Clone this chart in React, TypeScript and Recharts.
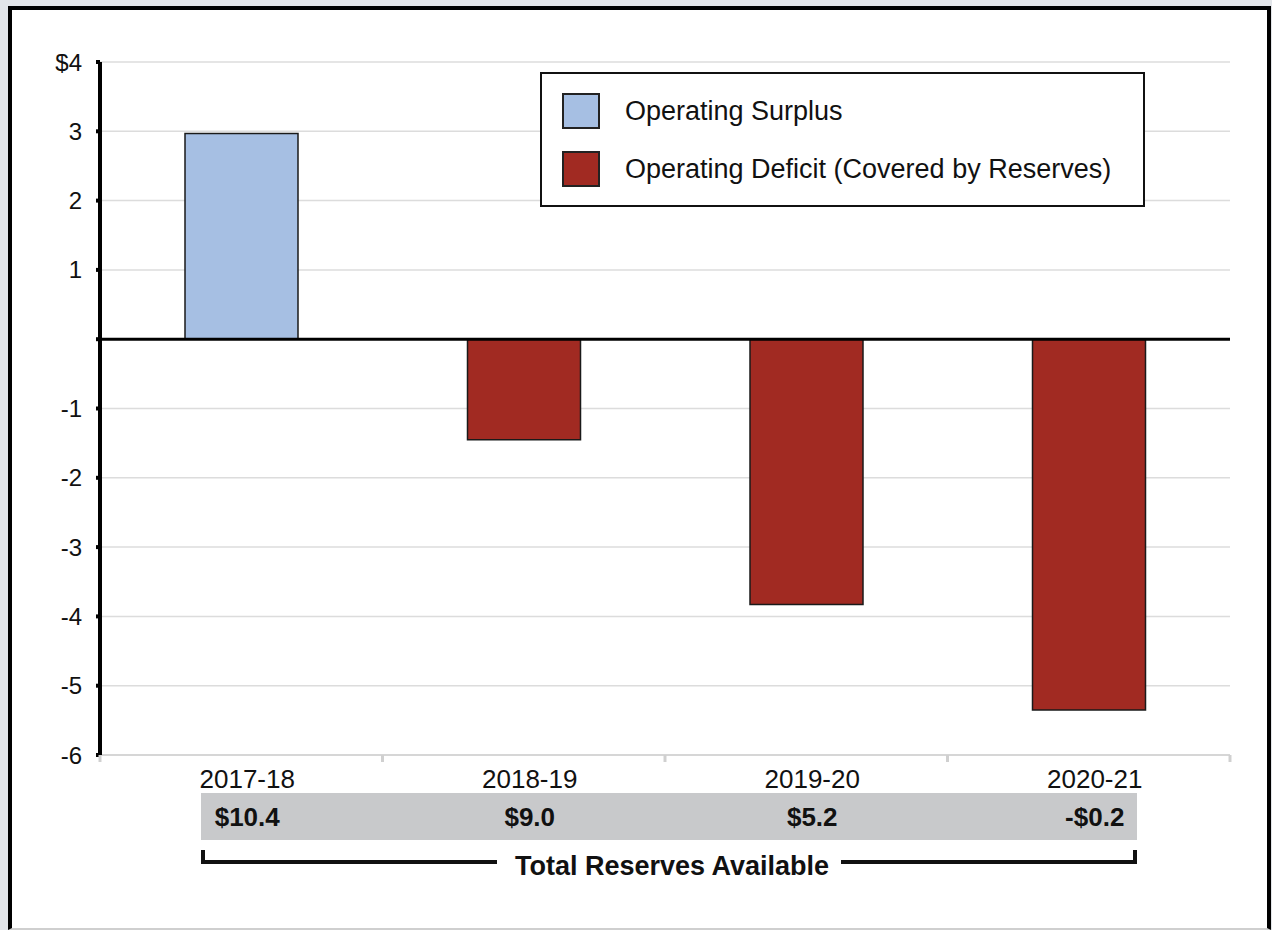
import React from 'react';
import { BarChart, Bar, XAxis, YAxis, CartesianGrid, ReferenceLine } from 'recharts';

const categories = ['2017-18', '2018-19', '2019-20', '2020-21'];
const surplus: (number | null)[] = [2.97, null, null, null];
const deficit: (number | null)[] = [null, -1.45, -3.83, -5.35];
const reserves = ['$10.4', '$9.0', '$5.2', '-$0.2'];
const yTicks = [-6, -5, -4, -3, -2, -1, 0, 1, 2, 3, 4];
const seriesNames = ['Operating Surplus', 'Operating Deficit (Covered by Reserves)'];
const seriesColors = ['#a6bfe3', '#a12a22'];
const bracketTitle = 'Total Reserves Available';

const data = categories.map((c, i) => ({
  name: c,
  surplus: surplus[i],
  deficit: deficit[i],
  reserve: reserves[i],
}));

const W = 1272;
const H = 930;
const M = { top: 62, right: 42, left: 20, bottom: 0 };
const Y_W = 80;
const X_H = 175;
const PLOT_W = W - M.left - M.right - Y_W;
const STEP = PLOT_W / categories.length;
const FONT = "'Liberation Sans', Arial, Helvetica, sans-serif";

const XTick = (props: any) => {
  const { x, y, payload, index } = props;
  const i = index;
  const last = categories.length - 1;
  const bandL = Math.round(i === 0 ? x - 40 : x - STEP / 2);
  const bandR = Math.round(i === last ? x + 48 : x + STEP / 2);
  return (
    <g>
      <line x1={x - STEP / 2} x2={x - STEP / 2} y1={y} y2={y + 7} stroke="#d0d0d0" strokeWidth={3} />
      {i === last && (
        <line x1={x + STEP / 2} x2={x + STEP / 2} y1={y} y2={y + 7} stroke="#d0d0d0" strokeWidth={3} />
      )}
      <text x={x + 6} y={y + 33} textAnchor="middle" fontSize={26} fill="#111" fontFamily={FONT}>
        {payload.value}
      </text>
      <rect x={bandL} y={y + 38} width={bandR - bandL + (i === last ? 0 : 1)} height={47} fill="#c8c9cb" />
      <text x={x + 6} y={y + 71} textAnchor="middle" fontSize={26} fontWeight="bold" fill="#111" fontFamily={FONT}>
        {data[i].reserve}
      </text>
      <line x1={bandL} x2={bandR + (i === last ? 0 : 1)} y1={y + 107} y2={y + 107} stroke="#111" strokeWidth={4} />
      {i === 0 && <line x1={bandL + 2} x2={bandL + 2} y1={y + 95} y2={y + 109} stroke="#111" strokeWidth={4} />}
      {i === last && <line x1={bandR - 2} x2={bandR - 2} y1={y + 95} y2={y + 109} stroke="#111" strokeWidth={4} />}
      {i === last && (
        <g>
          <rect x={x - STEP * 1.5 - 168} y={y + 90} width={344} height={30} fill="#fff" />
          <text x={x - STEP * 1.5 + 7} y={y + 120} textAnchor="middle" fontSize={27} fontWeight="bold" fill="#111" fontFamily={FONT}>
            {bracketTitle}
          </text>
        </g>
      )}
    </g>
  );
};

const LegendBox = () => (
  <div
    style={{
      position: 'absolute',
      left: 540,
      top: 72,
      width: 605,
      height: 135,
      boxSizing: 'border-box',
      border: '2px solid #111',
      background: '#fff',
      fontFamily: FONT,
    }}
  >
    {seriesNames.map((n, i) => (
      <div key={n} style={{ position: 'absolute', left: 20, top: 19 + i * 58, display: 'flex', alignItems: 'center' }}>
        <div style={{ width: 38, height: 36, boxSizing: 'border-box', background: seriesColors[i], border: '2px solid #222' }} />
        <span style={{ marginLeft: 25, fontSize: 27, color: '#111' }}>{n}</span>
      </div>
    ))}
  </div>
);

export default function App() {
  return (
    <div style={{ position: 'absolute', left: 0, top: 0, width: W, height: H, background: '#e2e5e9', overflow: 'hidden' }}>
      <div
        style={{
          position: 'absolute',
          left: 8,
          top: 6,
          width: 1263,
          height: 924,
          boxSizing: 'border-box',
          borderLeft: '4px solid #000',
          borderTop: '4px solid #000',
          borderRight: '4px solid #000',
          borderBottom: '2px solid #cfcfcf',
          background: '#fff',
        }}
      />
      <div style={{ position: 'absolute', left: 0, top: 0 }}>
        <BarChart width={W} height={H} data={data} margin={M} barSize={113} barGap={0}>
          <CartesianGrid vertical={false} stroke="#dcdcdc" strokeWidth={1.5} />
          <XAxis
            dataKey="name"
            height={X_H}
            axisLine={{ stroke: '#d6d6d6', strokeWidth: 2 }}
            tickLine={false}
            tickSize={0}
            tickMargin={0}
            interval={0}
            tick={<XTick />}
          />
          <YAxis
            width={Y_W}
            domain={[-6, 4]}
            ticks={yTicks}
            interval={0}
            axisLine={{ stroke: '#000', strokeWidth: 4 }}
            tickLine={{ stroke: '#000', strokeWidth: 4 }}
            tickSize={4}
            tickMargin={14}
            tickFormatter={(v: number) => (v === 4 ? '$4' : v === 0 ? '' : String(v))}
            tick={{ fill: '#111', fontSize: 24, fontFamily: FONT }}
          />
          <Bar dataKey="surplus" name={seriesNames[0]} stackId="a" fill={seriesColors[0]} stroke="#1a1a1a" strokeWidth={1.5} isAnimationActive={false} />
          <Bar dataKey="deficit" name={seriesNames[1]} stackId="a" fill={seriesColors[1]} stroke="#1a1a1a" strokeWidth={1.5} isAnimationActive={false} />
          <ReferenceLine y={0} stroke="#000" strokeWidth={3} />
        </BarChart>
      </div>
      <LegendBox />
    </div>
  );
}
